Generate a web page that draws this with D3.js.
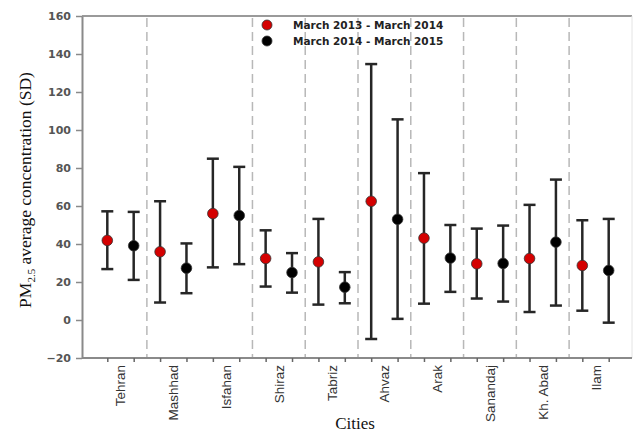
<!DOCTYPE html>
<html>
<head>
<meta charset="utf-8">
<script src="https://cdn.jsdelivr.net/npm/d3@7"></script>
<style>
  body { margin: 0; background: #fff; }
  svg { display: block; }
</style>
</head>
<body>
<div id="chart"></div>
<script>
(function(){
  // cities and the two periods
  var cities = ["Tehran", "Mashhad", "Isfahan", "Shiraz", "Tabriz", "Ahvaz", "Arak", "Sanandaj", "Kh. Abad", "Ilam"]
  var series = ["March 2013 - March 2014", "March 2014 - March 2015"]
  var colors = ["#d40000", "#000000"]

  // mean, mean - SD, mean + SD
  var mean2013 = [41.9, 35.9, 56.0, 32.4, 30.6, 62.5, 43.1, 29.6, 32.4, 28.7]
  var low2013  = [26.8,  9.2, 27.7, 17.6,  8.1, -10.0, 8.6, 11.3,  4.2,  4.9]
  var high2013 = [57.2, 62.5, 84.9, 47.2, 53.2, 134.7, 77.3, 48.1, 60.6, 52.5]

  var mean2014 = [39.1, 27.3, 55.0, 25.0, 17.3, 53.0, 32.6, 29.8, 41.0, 26.1]
  var low2014  = [21.1, 14.1, 29.4, 14.4,  8.8,  0.6, 14.8,  9.7,  7.6, -1.4]
  var high2014 = [56.9, 40.3, 80.6, 35.2, 25.2, 105.6, 50.0, 49.7, 73.9, 53.2]

  var yTicks = [-20, 0, 20, 40, 60, 80, 100, 120, 140, 160]
  // dashed separators drawn after these cities
  var separatorsAfter = ["Tehran", "Isfahan", "Shiraz", "Tabriz", "Ahvaz", "Arak", "Sanandaj", "Kh. Abad"]

  var W = 633, H = 434
  var left = 82, right = 632, top = 16, bottom = 358

  var svg = d3.select("#chart").append("svg").attr("width", W).attr("height", H)

  var points = []
  cities.forEach(function(c, i) {
    points.push({city: c, s: 0, key: c + "|0", mean: mean2013[i], lo: low2013[i], hi: high2013[i]})
    points.push({city: c, s: 1, key: c + "|1", mean: mean2014[i], lo: low2014[i], hi: high2014[i]})
  })

  var x = d3.scalePoint().domain(points.map(function(d) { return d.key })).range([107.3, 608.7])
  var y = d3.scaleLinear().domain([-20, 160]).range([bottom, top])
  var cityX = function(c) { return (x(c + "|0") + x(c + "|1")) / 2 }

  // frame: top and right light lines
  svg.append("line").attr("x1", left).attr("x2", right).attr("y1", top).attr("y2", top)
    .attr("stroke", "#9a9a9a").attr("stroke-width", 2)
  svg.append("line").attr("x1", right).attr("x2", right).attr("y1", top).attr("y2", bottom)
    .attr("stroke", "#e4e4e4").attr("stroke-width", 1)

  // separators
  var sepX = function(c) { var i = cities.indexOf(c); return (x(c + "|1") + x(cities[i + 1] + "|0")) / 2 }
  svg.append("g").selectAll("line").data(separatorsAfter).enter().append("line")
    .attr("x1", sepX).attr("x2", sepX)
    .attr("y1", top + 2).attr("y2", bottom)
    .attr("stroke", "#b8b8b8").attr("stroke-width", 1.5).attr("stroke-dasharray", "9,5")

  // y axis
  var yAxis = svg.append("g").attr("transform", "translate(" + left + ",0)")
    .call(d3.axisLeft(y).tickValues(yTicks).tickSize(6).tickPadding(5).tickSizeOuter(0))
  yAxis.select(".domain").attr("stroke", "#8a8a8a").attr("stroke-width", 2)
  yAxis.selectAll(".tick line").attr("stroke", "#8a8a8a").attr("stroke-width", 1.5)
  yAxis.selectAll("text").attr("fill", "#555").style("font-family", "DejaVu Sans, sans-serif")
    .style("font-size", "11px").style("font-weight", "bold")

  // x axis
  var xAxis = svg.append("g").attr("transform", "translate(0," + bottom + ")")
    .call(d3.axisBottom(x).tickSize(4).tickSizeOuter(0).tickFormat(""))
  xAxis.select(".domain").attr("d", "M" + left + ",0H" + right).attr("stroke", "#8a8a8a").attr("stroke-width", 2)
  xAxis.selectAll(".tick line").attr("stroke", "#666").attr("stroke-width", 1.5)

  svg.append("g").selectAll("text").data(cities).enter().append("text")
    .attr("transform", function(c) { return "translate(" + (cityX(c) + 5) + "," + (bottom + 7) + ") rotate(-90)" })
    .attr("text-anchor", "end")
    .style("font-family", "Liberation Sans, Arial, sans-serif").style("font-size", "13.5px")
    .attr("fill", "#333")
    .text(function(d) { return d })

  // error bars
  var bars = svg.append("g").selectAll("g").data(points).enter().append("g")
  bars.append("line")
    .attr("x1", function(d) { return x(d.key) }).attr("x2", function(d) { return x(d.key) })
    .attr("y1", function(d) { return y(d.lo) }).attr("y2", function(d) { return y(d.hi) })
    .attr("stroke", "#262626").attr("stroke-width", 2.5)
  bars.selectAll(".cap").data(function(d) { return [{k: d.key, v: d.lo}, {k: d.key, v: d.hi}] })
    .enter().append("line")
    .attr("x1", function(d) { return x(d.k) - 6 }).attr("x2", function(d) { return x(d.k) + 6 })
    .attr("y1", function(d) { return y(d.v) }).attr("y2", function(d) { return y(d.v) })
    .attr("stroke", "#262626").attr("stroke-width", 2.5)
  bars.append("circle")
    .attr("cx", function(d) { return x(d.key) }).attr("cy", function(d) { return y(d.mean) })
    .attr("r", 5.3).attr("fill", function(d) { return colors[d.s] })
    .attr("stroke", "#333").attr("stroke-width", 0.8)

  // legend
  var legend = svg.append("g").selectAll("g").data(series).enter().append("g")
    .attr("transform", function(d, i) { return "translate(267," + (25 + i * 16) + ")" })
  legend.append("circle").attr("r", 5).attr("fill", function(d, i) { return colors[i] })
    .attr("stroke", "#333").attr("stroke-width", 0.8)
  legend.append("text").attr("x", 26).attr("dy", "0.35em")
    .style("font-family", "DejaVu Sans, sans-serif").style("font-size", "10.5px")
    .style("font-weight", "bold").attr("fill", "#222")
    .text(function(d) { return d })

  // axis titles
  var yt = svg.append("text")
    .attr("transform", "translate(31,190) rotate(-90)")
    .attr("text-anchor", "middle")
    .style("font-family", "Liberation Serif, Times New Roman, serif").style("font-size", "17.5px")
    .attr("fill", "#111")
  yt.append("tspan").text("PM")
  yt.append("tspan").attr("dy", 4).style("font-size", "11px").text("2.5")
  yt.append("tspan").attr("dy", -4).text("  average concentration (SD)")

  svg.append("text").attr("x", 355).attr("y", 429).attr("text-anchor", "middle")
    .style("font-family", "Liberation Serif, Times New Roman, serif").style("font-size", "17px")
    .attr("fill", "#111").text("Cities")
})()
</script>
</body>
</html>
